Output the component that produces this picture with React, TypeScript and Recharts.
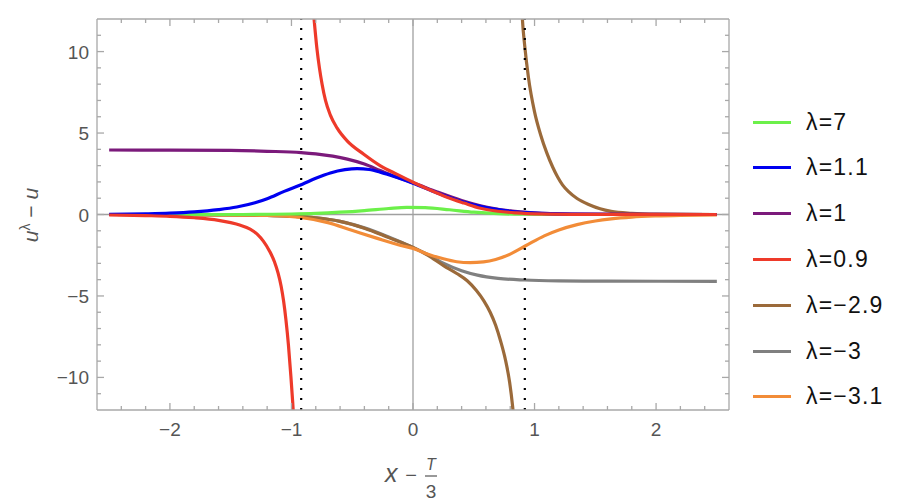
import { CartesianGrid, Line, LineChart, ReferenceLine, XAxis, YAxis } from 'recharts'

type Pt = [number, number]

// legend labels and colours, same order as the legend
const lambdaLabels = ['7', '1.1', '1', '0.9', '−2.9', '−3', '−3.1']
const lambdaColors = ['#6cf04a', '#0000f0', '#7b1a7b', '#ee3a2a', '#9b6a3a', '#808080', '#f28c38']

// values, [x - T/3, u^λ - u]; curves run from -2.5 to 2.5
const green: Pt[] = [
  [-2.5, 0], [-1.4, 0], [-1.0, 0.03], [-0.8, 0.07], [-0.6, 0.14], [-0.4, 0.24], [-0.2, 0.37],
  [-0.05, 0.44], [0.1, 0.42], [0.3, 0.29], [0.5, 0.14], [0.7, 0.05], [0.9, 0.015], [1.2, 0], [2.5, 0],
]
const blue: Pt[] = [
  [-2.5, 0.01], [-2.2, 0.04], [-2.0, 0.08], [-1.8, 0.16], [-1.6, 0.3], [-1.45, 0.46], [-1.3, 0.72],
  [-1.2, 0.97], [-1.06, 1.42], [-0.91, 1.86], [-0.8, 2.22], [-0.68, 2.55], [-0.56, 2.75], [-0.46, 2.82],
  [-0.36, 2.76], [-0.27, 2.6], [-0.13, 2.27], [0, 1.92], [0.2, 1.32], [0.4, 0.8], [0.6, 0.42],
  [0.8, 0.2], [1.0, 0.09], [1.3, 0.03], [1.7, 0.01], [2.5, 0],
]
const purple: Pt[] = [
  [-2.5, 3.96], [-2.0, 3.95], [-1.5, 3.93], [-1.2, 3.88], [-0.92, 3.8], [-0.8, 3.72], [-0.66, 3.58],
  [-0.54, 3.4], [-0.4, 3.1], [-0.27, 2.7], [-0.13, 2.28], [0, 1.95], [0.2, 1.38], [0.4, 0.86],
  [0.6, 0.46], [0.8, 0.22], [1.0, 0.1], [1.3, 0.03], [1.7, 0.01], [2.5, 0],
]
const redLeft: Pt[] = [
  [-2.5, -0.03], [-2.2, -0.07], [-2.0, -0.11], [-1.8, -0.2], [-1.6, -0.36], [-1.5, -0.5], [-1.42, -0.66],
  [-1.34, -0.9], [-1.28, -1.22], [-1.23, -1.65], [-1.18, -2.25], [-1.14, -2.9], [-1.11, -3.6],
  [-1.085, -4.4], [-1.065, -5.3], [-1.045, -6.5], [-1.025, -8.0], [-1.005, -9.9], [-0.99, -11.5],
  [-0.978, -13],
]
const redRight: Pt[] = [
  [-0.82, 12.5], [-0.79, 10.15], [-0.77, 9], [-0.748, 8.0], [-0.72, 7.0], [-0.68, 6.1],
  [-0.624, 5.3], [-0.542, 4.52], [-0.405, 3.7], [-0.268, 2.99], [-0.13, 2.46], [0, 1.98],
  [0.14, 1.5], [0.28, 1.06], [0.42, 0.7], [0.556, 0.38], [0.7, 0.2], [0.85, 0.1], [1.0, 0.04],
  [1.3, 0.01], [2.5, 0],
]
const brownLeft: Pt[] = [
  [-2.5, 0], [-1.6, -0.02], [-1.2, -0.06], [-1.0, -0.1], [-0.8, -0.2], [-0.6, -0.42], [-0.4, -0.84],
  [-0.2, -1.42], [0, -2.02], [0.12, -2.5], [0.254, -3.15], [0.36, -3.62], [0.446, -4.07],
  [0.52, -4.65], [0.583, -5.3], [0.635, -6.0], [0.68, -6.8], [0.72, -7.75], [0.76, -8.9],
  [0.795, -10.3], [0.82, -11.8], [0.835, -13],
]
const brownRight: Pt[] = [
  [0.893, 13], [0.9, 12], [0.92, 10.3], [0.95, 8.4], [1.0, 6.3], [1.05, 4.9], [1.1, 3.8],
  [1.15, 2.9], [1.19, 2.3], [1.23, 1.82], [1.28, 1.4], [1.35, 0.98], [1.45, 0.6], [1.54, 0.35],
  [1.63, 0.19], [1.8, 0.07], [2.0, 0.02], [2.5, 0],
]
const gray: Pt[] = [
  [-2.5, 0], [-1.6, -0.02], [-1.2, -0.06], [-1.0, -0.1], [-0.8, -0.2], [-0.6, -0.42], [-0.4, -0.82],
  [-0.2, -1.38], [0, -2.02], [0.12, -2.45], [0.254, -3.0], [0.4, -3.45], [0.53, -3.72],
  [0.7, -3.92], [0.92, -4.02], [1.2, -4.07], [1.6, -4.09], [2.5, -4.1],
]
const orange: Pt[] = [
  [-2.5, 0], [-1.6, -0.02], [-1.2, -0.06], [-0.91, -0.2], [-0.7, -0.5], [-0.51, -0.95], [-0.3, -1.45],
  [-0.1, -1.9], [0, -2.08], [0.13, -2.45], [0.25, -2.72], [0.36, -2.9], [0.47, -2.96], [0.58, -2.91],
  [0.68, -2.76], [0.8, -2.43], [0.927, -1.92], [1.08, -1.31], [1.2, -0.95], [1.35, -0.62],
  [1.5, -0.4], [1.63, -0.27], [1.8, -0.16], [2.0, -0.09], [2.2, -0.05], [2.5, -0.02],
]

const xMajorTicks = [-2, -1, 0, 1, 2]
const xTicks = [
  -2.4, -2.2, -2, -1.8, -1.6, -1.4, -1.2, -1, -0.8, -0.6, -0.4, -0.2, 0,
  0.2, 0.4, 0.6, 0.8, 1, 1.2, 1.4, 1.6, 1.8, 2, 2.2, 2.4,
]
const yMajorTicks = [-10, -5, 0, 5, 10]
const yTicks = [-11, -10, -9, -8, -7, -6, -5, -4, -3, -2, -1, 0, 1, 2, 3, 4, 5, 6, 7, 8, 9, 10, 11]
const dottedX = [-0.92, 0.92]

// order drawn: later ones on top
const series: { id: string; pts: Pt[]; color: string }[] = [
  { id: 'gray', pts: gray, color: lambdaColors[5] },
  { id: 'brownL', pts: brownLeft, color: lambdaColors[4] },
  { id: 'brownR', pts: brownRight, color: lambdaColors[4] },
  { id: 'orange', pts: orange, color: lambdaColors[6] },
  { id: 'green', pts: green, color: lambdaColors[0] },
  { id: 'purple', pts: purple, color: lambdaColors[2] },
  { id: 'blue', pts: blue, color: lambdaColors[1] },
  { id: 'redL', pts: redLeft, color: lambdaColors[3] },
  { id: 'redR', pts: redRight, color: lambdaColors[3] },
]

const FRAME = '#a8a8a8'
const LABEL = '#555'
const FONT = '"Liberation Sans", Arial, sans-serif'

const fmt = (v: number) => (v < 0 ? `−${Math.abs(v)}` : `${v}`)

function BottomTick(props: any) {
  const { x, y, payload } = props
  const major = xMajorTicks.includes(payload.value)
  return (
    <g>
      <line x1={x} x2={x} y1={y} y2={y - (major ? 7 : 4)} stroke={FRAME} strokeWidth={1.3} />
      {major && (
        <text x={x} y={y + 26} textAnchor="middle" fill={LABEL} fontSize={19} fontFamily={FONT}>
          {fmt(payload.value)}
        </text>
      )}
    </g>
  )
}

function TopTick(props: any) {
  const { x, y, payload } = props
  const major = xMajorTicks.includes(payload.value)
  return <line x1={x} x2={x} y1={y} y2={y + (major ? 7 : 4)} stroke={FRAME} strokeWidth={1.3} />
}

function LeftTick(props: any) {
  const { x, y, payload } = props
  const major = yMajorTicks.includes(payload.value)
  return (
    <g>
      <line x1={x} x2={x + (major ? 7 : 4)} y1={y} y2={y} stroke={FRAME} strokeWidth={1.3} />
      {major && (
        <text x={x - 8} y={y + 7} textAnchor="end" fill={LABEL} fontSize={19} fontFamily={FONT}>
          {fmt(payload.value)}
        </text>
      )}
    </g>
  )
}

function RightTick(props: any) {
  const { x, y, payload } = props
  const major = yMajorTicks.includes(payload.value)
  return <line x1={x} x2={x - (major ? 7 : 4)} y1={y} y2={y} stroke={FRAME} strokeWidth={1.3} />
}

export default function App() {
  const axisLine = { stroke: FRAME, strokeWidth: 1.3 }
  return (
    <div style={{ position: 'relative', width: 894, height: 494, fontFamily: FONT }}>
      <LineChart width={740} height={490} margin={{ top: 10, right: 18, bottom: 87, left: 88 }}>
        <CartesianGrid horizontalValues={[0]} verticalValues={[0]} stroke="#a0a0a0" strokeWidth={1.3} />
        <XAxis
          type="number"
          dataKey="x"
          domain={[-2.6, 2.6]}
          allowDataOverflow
          ticks={xTicks}
          interval={0}
          height={1}
          tickSize={0}
          tickMargin={0}
          tickLine={false}
          tick={BottomTick}
          axisLine={axisLine}
        />
        <XAxis
          xAxisId="top"
          orientation="top"
          type="number"
          dataKey="x"
          domain={[-2.6, 2.6]}
          allowDataOverflow
          ticks={xTicks}
          interval={0}
          height={1}
          tickSize={0}
          tickMargin={0}
          tickLine={false}
          tick={TopTick}
          axisLine={axisLine}
        />
        <YAxis
          type="number"
          domain={[-12, 12]}
          allowDataOverflow
          ticks={yTicks}
          interval={0}
          width={1}
          tickSize={0}
          tickMargin={0}
          tickLine={false}
          tick={LeftTick}
          axisLine={axisLine}
        />
        <YAxis
          yAxisId="right"
          orientation="right"
          type="number"
          domain={[-12, 12]}
          allowDataOverflow
          ticks={yTicks}
          interval={0}
          width={1}
          tickSize={0}
          tickMargin={0}
          tickLine={false}
          tick={RightTick}
          axisLine={axisLine}
        />
        {series.map((s) => (
          <Line
            key={s.id}
            name={s.id}
            data={s.pts.map(([x, y]) => ({ x, y }))}
            dataKey="y"
            type="monotone"
            stroke={s.color}
            strokeWidth={3.2}
            dot={false}
            activeDot={false}
            isAnimationActive={false}
          />
        ))}
        {dottedX.map((x) => (
          <ReferenceLine key={x} x={x} stroke="#000" strokeWidth={2.2} strokeDasharray="2 8" />
        ))}
      </LineChart>

      <svg
        width={894}
        height={494}
        style={{ position: 'absolute', left: 0, top: 0, pointerEvents: 'none', overflow: 'visible' }}
        fontFamily={FONT}
        fill={LABEL}
      >
        <text transform="translate(30,207) rotate(-90)" textAnchor="middle" fontSize={21}>
          <tspan fontStyle="italic">u</tspan>
          <tspan dy={-8} fontSize={14}>λ</tspan>
          <tspan dy={8}> − </tspan>
          <tspan fontStyle="italic">u</tspan>
        </text>
        <text x={377} y={474} fontSize={25} fontStyle="italic">x</text>
        <text x={403} y={474} fontSize={20} textAnchor="middle">−</text>
        <text x={423} y={462} fontSize={16} fontStyle="italic" textAnchor="middle">T</text>
        <line x1={417} x2={429} y1={468} y2={468} stroke={LABEL} strokeWidth={1.2} />
        <text x={423} y={490} fontSize={19} textAnchor="middle">3</text>
      </svg>

      {lambdaLabels.map((lab, i) => (
        <div
          key={lab}
          style={{
            position: 'absolute',
            left: 745,
            top: 114 + i * 45.8 - 15,
            height: 30,
            display: 'flex',
            alignItems: 'center',
          }}
        >
          <div style={{ width: 38, height: 3, background: lambdaColors[i], marginRight: 15 }} />
          <span style={{ fontSize: 23, letterSpacing: 1.2, color: '#111', whiteSpace: 'nowrap' }}>
            λ={lab}
          </span>
        </div>
      ))}
    </div>
  )
}
